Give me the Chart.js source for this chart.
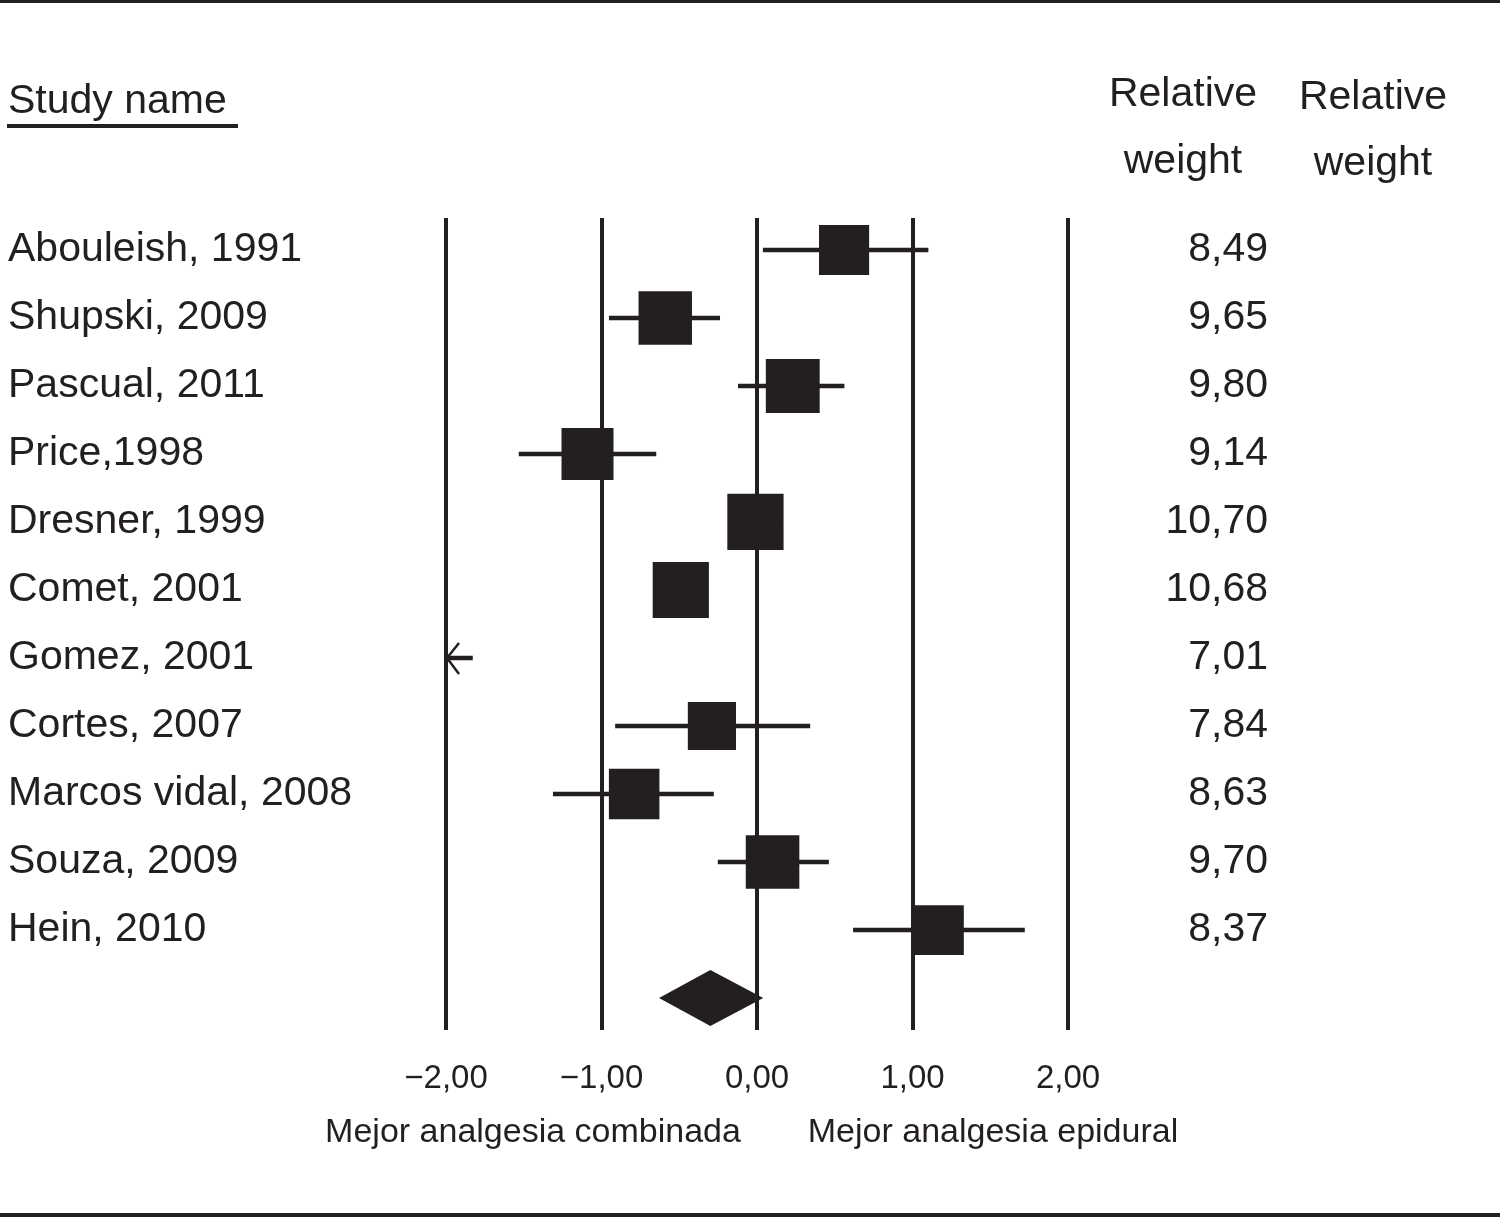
<!DOCTYPE html>
<html>
<head>
<meta charset="utf-8">
<script src="https://cdn.jsdelivr.net/npm/chart.js@4"></script>
<style>
  html, body { margin: 0; padding: 0; background: #fff; }
  #wrap { width: 1500px; height: 1217px; }
</style>
</head>
<body>
<div id="wrap"><canvas id="forest" width="1500" height="1217"></canvas></div>
<script>
// ---- data ----
const studies = [
  "Abouleish, 1991", "Shupski, 2009", "Pascual, 2011", "Price,1998",
  "Dresner, 1999", "Comet, 2001", "Gomez, 2001", "Cortes, 2007",
  "Marcos vidal, 2008", "Souza, 2009", "Hein, 2010"
];
const estimate = [0.56, -0.59, 0.23, -1.09, -0.01, -0.49, -2.30, -0.29, -0.79, 0.10, 1.17];
const lower    = [0.04, -0.95, -0.12, -1.53, -0.17, -0.64, -2.80, -0.91, -1.31, -0.25, 0.62];
const upper    = [1.10, -0.24, 0.56, -0.65, 0.15, -0.34, -1.83, 0.34, -0.28, 0.46, 1.72];
const weights  = [8.49, 9.65, 9.80, 9.14, 10.70, 10.68, 7.01, 7.84, 8.63, 9.70, 8.37];
const pooledEst = -0.30;
const pooledLow = -0.63;
const pooledHigh = 0.04;
const xTicks = [-2, -1, 0, 1, 2];

const INK = "#231f20";
const FONT = "'Liberation Sans', Arial, Helvetica, sans-serif";
const rowCount = studies.length + 1; // last row = pooled diamond

function fmtComma(v) {
  return v.toFixed(2).replace(".", ",");
}

function fmtTick(v) {
  return (v < 0 ? "\u2212" : "") + fmtComma(Math.abs(v));
}

// square side proportional to sqrt(weight)
function squareRadius(w) {
  const side = 17.2 * Math.sqrt(w);
  return side / (2 * Math.SQRT1_2);
}

function fixedTicks(scale) {
  scale.ticks = [];
  for (let i = 0; i < rowCount; i++) scale.ticks.push({ value: i });
}

const extras = {
  id: "extras",
  afterDatasetsDraw(chart) {
    const ctx = chart.ctx;
    const xs = chart.scales.x;
    const ys = chart.scales.y;
    ctx.save();

    // pooled diamond
    const yd = ys.getPixelForValue(rowCount - 1);
    const half = 28;
    ctx.fillStyle = INK;
    ctx.beginPath();
    ctx.moveTo(xs.getPixelForValue(pooledLow), yd);
    ctx.lineTo(xs.getPixelForValue(pooledEst), yd - half);
    ctx.lineTo(xs.getPixelForValue(pooledHigh), yd);
    ctx.lineTo(xs.getPixelForValue(pooledEst), yd + half);
    ctx.closePath();
    ctx.fill();

    // arrows for intervals running past the left edge
    ctx.strokeStyle = INK;
    ctx.lineWidth = 2.5;
    studies.forEach((s, i) => {
      if (lower[i] >= xs.min) return;
      const x0 = xs.getPixelForValue(xs.min) + 1;
      const y = ys.getPixelForValue(i);
      ctx.beginPath();
      ctx.moveTo(x0 + 12, y - 15);
      ctx.lineTo(x0, y);
      ctx.lineTo(x0 + 12, y + 16);
      ctx.stroke();
    });

    // headers
    ctx.fillStyle = INK;
    ctx.textBaseline = "middle";
    ctx.font = "41px " + FONT;
    ctx.textAlign = "left";
    ctx.fillText("Study name", 8, 102);
    ctx.fillRect(7, 124, 231, 4);
    ctx.textAlign = "center";
    ctx.fillText("Relative", 1183, 95);
    ctx.fillText("weight", 1183, 162);
    ctx.fillText("Relative", 1373, 98);
    ctx.fillText("weight", 1373, 164);

    // axis side captions
    ctx.font = "34px " + FONT;
    ctx.fillText("Mejor analgesia combinada", 533, 1133);
    ctx.fillText("Mejor analgesia epidural", 993, 1133);

    // page rules top and bottom
    ctx.fillRect(0, 0, 1500, 3);
    ctx.fillRect(0, 1213, 1500, 4);
    ctx.restore();
  }
};

new Chart(document.getElementById("forest"), {
  type: "scatter",
  data: {
    datasets: [
      {
        type: "bar",
        indexAxis: "y",
        data: studies.map((s, i) => ({ x: [lower[i], upper[i]], y: i })),
        backgroundColor: INK,
        borderWidth: 0,
        barThickness: 4,
        clip: 0
      },
      {
        type: "scatter",
        data: studies.map((s, i) => ({ x: estimate[i], y: i })),
        pointStyle: "rect",
        pointRadius: weights.map(squareRadius),
        pointHoverRadius: weights.map(squareRadius),
        backgroundColor: INK,
        borderWidth: 0,
        clip: 0
      }
    ]
  },
  options: {
    responsive: false,
    animation: false,
    events: [],
    layout: { padding: { left: 8, right: 232, top: 218, bottom: 117 } },
    plugins: { legend: { display: false }, tooltip: { enabled: false } },
    scales: {
      x: {
        type: "linear",
        min: -2,
        max: 2,
        offset: false,
        afterBuildTicks: (scale) => { scale.ticks = xTicks.map((v) => ({ value: v })); },
        afterFit: (scale) => { scale.height = 70; },
        grid: { color: INK, lineWidth: 4, drawTicks: false, offset: false },
        border: { display: false },
        ticks: {
          color: INK,
          font: { family: FONT, size: 33 },
          padding: 29,
          maxRotation: 0,
          callback: (v) => fmtTick(v)
        }
      },
      y: {
        type: "linear",
        position: "left",
        reverse: true,
        offset: false,
        min: -0.47,
        max: rowCount - 1 + 0.47,
        afterBuildTicks: fixedTicks,
        afterFit: (scale) => { scale.width = 438; },
        grid: { display: false },
        border: { display: false },
        ticks: {
          color: INK,
          crossAlign: "far",
          font: { family: FONT, size: 41 },
          callback: (v) => studies[v] || ""
        }
      },
      y2: {
        type: "linear",
        position: "right",
        reverse: true,
        offset: false,
        min: -0.47,
        max: rowCount - 1 + 0.47,
        afterBuildTicks: fixedTicks,
        afterFit: (scale) => { scale.width = 200; },
        grid: { display: false },
        border: { display: false },
        ticks: {
          color: INK,
          crossAlign: "far",
          font: { family: FONT, size: 41 },
          callback: (v) => (weights[v] !== undefined ? fmtComma(weights[v]) : "")
        }
      }
    }
  },
  plugins: [extras]
});
</script>
</body>
</html>
